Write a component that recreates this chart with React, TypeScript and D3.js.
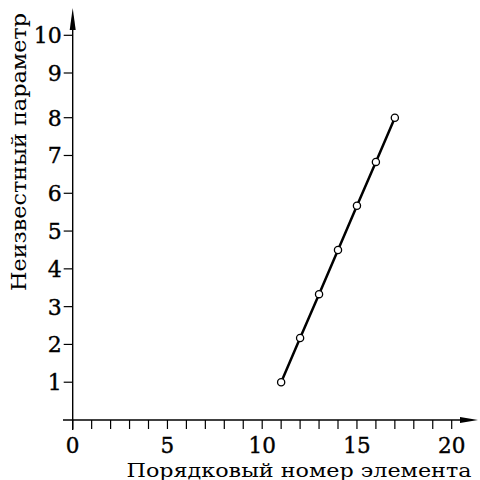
import React from 'react';
import * as d3 from 'd3';

const W = 480;
const H = 480;

// data
const elementNumbers = [11, 12, 13, 14, 15, 16, 17];
const paramValues = [1, 2.17, 3.33, 4.5, 5.67, 6.83, 8];
const xTickLabels = [0, 5, 10, 15, 20];
const yTickLabels = [1, 2, 3, 4, 5, 6, 7, 8, 9, 10];
const xMinorTicks = d3.range(0, 21);
const xTitle = 'Порядковый номер элемента';
const yTitle = 'Неизвестный параметр';

const FONT = '"DejaVu Serif", "Liberation Serif", serif';

// the source drawing has a slightly larger gap between 8 and 9
const x = d3.scaleLinear().domain([0, 20]).range([72.7, 451.7]);
const y = d3.scaleLinear().domain([0, 8, 9, 10]).range([420, 117.7, 73, 35.3]);

const line = d3
  .line<number>()
  .x((d, i) => x(elementNumbers[i]))
  .y(d => y(d));

export default function App() {
  const x0 = x(0);
  const y0 = y(0);
  return (
    <div style={{ position: 'fixed', left: 0, top: 0 }}>
      <svg width={W} height={H} style={{ display: 'block', background: '#fff' }}>
        {/* axes */}
        <line x1={63} x2={464} y1={y0} y2={y0} stroke="#000" strokeWidth={1.4} />
        <path d={`M478,${y0} L460,${y0 - 3} L460,${y0 + 3} Z`} fill="#000" />
        <line x1={x0} x2={x0} y1={430} y2={24} stroke="#000" strokeWidth={1.4} />
        <path d={`M${x0},8 L${x0 - 3},30 L${x0 + 3},30 Z`} fill="#000" />

        {/* x ticks */}
        {xMinorTicks.map(t => (
          <line key={t} x1={x(t)} x2={x(t)} y1={y0} y2={y0 + 9} stroke="#000" strokeWidth={1.2} />
        ))}
        {xTickLabels.map(t => (
          <text key={t} x={x(t)} y={453} textAnchor="middle" fontFamily={FONT} fontSize={21.5} fill="#000" stroke="#000" strokeWidth={0.4}>
            {t}
          </text>
        ))}

        {/* y ticks */}
        {yTickLabels.map(t => (
          <g key={t}>
            <line x1={x0 - 9} x2={x0} y1={y(t)} y2={y(t)} stroke="#000" strokeWidth={1.2} />
            <text x={x0 - 11} y={y(t)} dy="0.36em" textAnchor="end" fontFamily={FONT} fontSize={22} fill="#000" stroke="#000" strokeWidth={0.4}>
              {t}
            </text>
          </g>
        ))}

        {/* titles */}
        <text x={299} y={477} textAnchor="middle" fontFamily={FONT} fontSize={19} fill="#000" textLength={345} lengthAdjust="spacingAndGlyphs">
          {xTitle}
        </text>
        <text
          transform={`translate(26,152) rotate(-90)`}
          textAnchor="middle"
          fontFamily={FONT}
          fontSize={19.5}
          fill="#000"
          textLength={278}
          lengthAdjust="spacingAndGlyphs"
        >
          {yTitle}
        </text>

        {/* series */}
        <path d={line(paramValues) || ''} fill="none" stroke="#000" strokeWidth={2.5} />
        {paramValues.map((v, i) => (
          <circle key={i} cx={x(elementNumbers[i])} cy={y(v)} r={3.6} fill="#fff" stroke="#000" strokeWidth={1.3} />
        ))}
      </svg>
    </div>
  );
}
